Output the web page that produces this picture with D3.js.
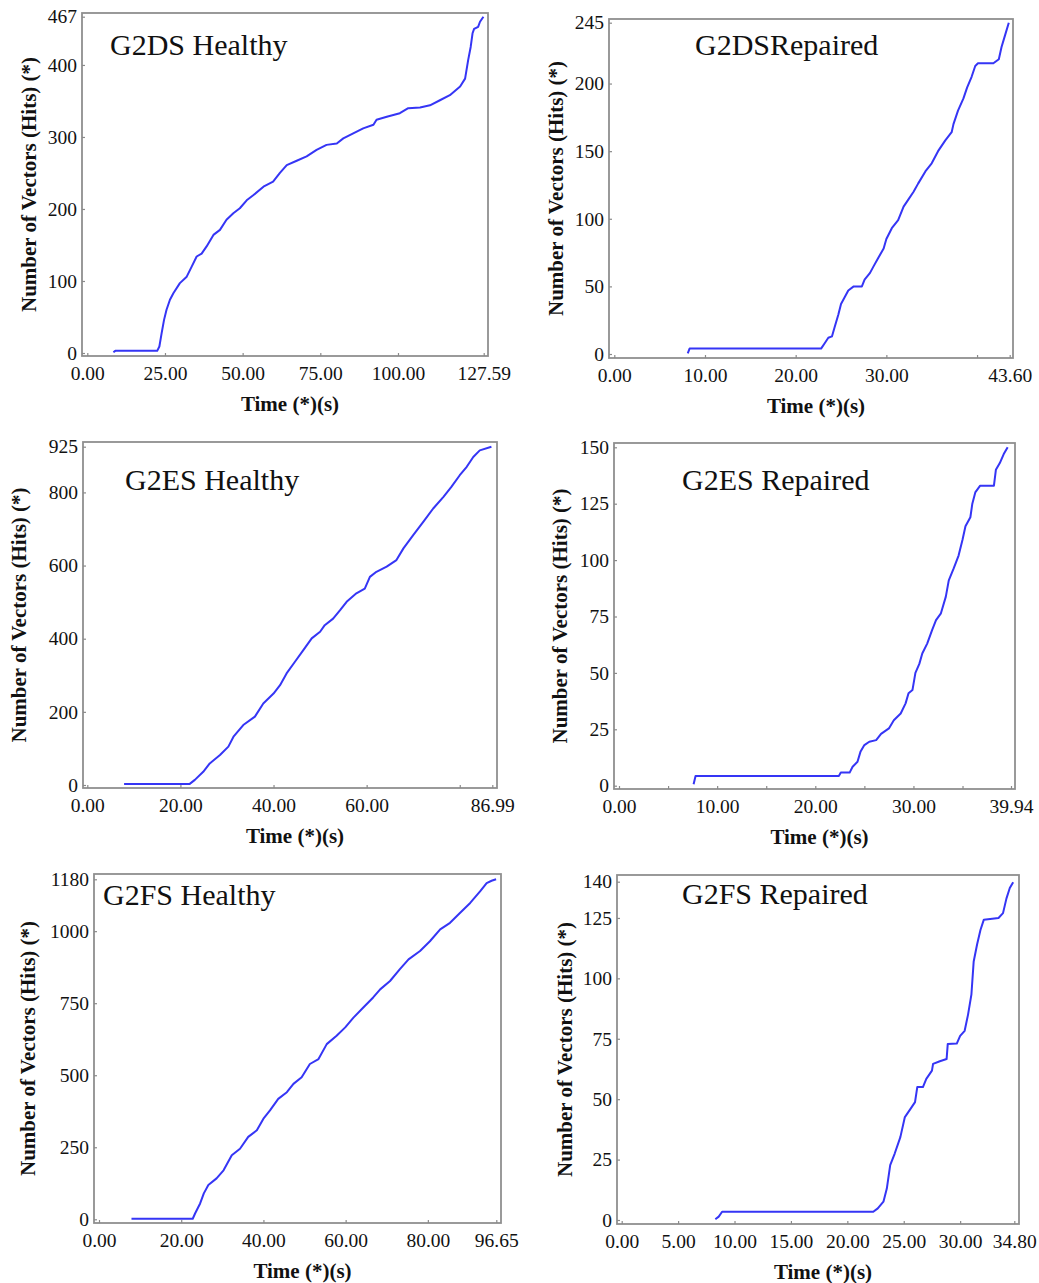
<!DOCTYPE html>
<html>
<head>
<meta charset="utf-8">
<script src="https://cdn.jsdelivr.net/npm/d3@7"></script>
<style>
  body { margin: 0; background: #fff; }
  .tick text { font-family: "Liberation Serif", "Times New Roman", serif; font-size: 19.5px; fill: #111; }
  .tick line { stroke: #8a8a8a; stroke-width: 1.2; }
  .axis-title { font-family: "Liberation Serif", serif; font-size: 21px; font-weight: bold; fill: #111; }
  .panel-title { font-family: "Liberation Serif", serif; font-size: 30px; fill: #111; }
</style>
</head>
<body>
<div id="chart"></div>
<script>
// ---- data (time in s, cumulative hits) ----

// G2DS Healthy
const g2dsHealthyT = [8.4, 9.0, 22.5, 23.2, 23.9, 24.7, 25.5, 26.6, 27.7, 29.8, 32.0, 33.6, 35.2, 36.8, 38.4, 40.6, 42.7, 44.8, 47.0, 49.1, 51.3, 53.4, 56.7, 59.8, 62.0, 64.2, 67.4, 70.6, 73.8, 77.0, 80.3, 82.4, 85.6, 88.8, 92.1, 93.1, 96.4, 100.6, 103.3, 107.1, 110.3, 113.5, 116.7, 120.0, 121.6, 122.6, 123.4, 124.0, 124.5, 125.8, 126.4, 127.5];
const g2dsHealthyV = [1, 3, 3, 9, 27, 46, 60, 74, 83, 97, 106, 120, 134, 138, 148, 164, 171, 185, 194, 201, 212, 219, 231, 238, 250, 261, 267, 273, 282, 289, 291, 298, 305, 312, 317, 324, 328, 333, 340, 341, 344, 351, 358, 370, 381, 407, 425, 444, 450, 453, 460, 467];
const g2dsHealthyXTicks = [0, 25, 50, 75, 100, 127.59];
const g2dsHealthyYTicks = [0, 100, 200, 300, 400, 467];

// G2DS Repaired
const g2dsRepairedT = [8.1, 8.3, 22.8, 23.2, 23.6, 24.0, 24.3, 24.7, 25.0, 25.4, 25.8, 26.4, 27.3, 27.6, 28.2, 28.6, 29.1, 29.7, 30.0, 30.6, 31.3, 31.9, 32.4, 33.0, 33.5, 34.3, 35.0, 35.7, 36.5, 37.2, 37.4, 37.9, 38.5, 38.9, 39.4, 39.8, 40.1, 41.8, 42.4, 42.7, 43.1, 43.5];
const g2dsRepairedV = [0.5, 4, 4, 8, 12, 13, 20, 29, 37, 42, 47, 50, 50, 55, 60, 65, 71, 78, 85, 93, 99, 109, 114, 120, 126, 135, 141, 150, 158, 164, 170, 180, 189, 197, 205, 213, 215, 215, 218, 227, 236, 245];
const g2dsRepairedXTicks = [0, 10, 20, 30, 40, 43.6];
const g2dsRepairedYTicks = [0, 50, 100, 150, 200, 245];

// G2ES Healthy
const g2esHealthyT = [7.9, 22.0, 23.1, 24.9, 26.3, 28.5, 30.3, 31.4, 33.5, 36.0, 37.8, 40.0, 41.4, 42.8, 44.6, 46.4, 48.2, 50.0, 51.0, 52.8, 54.3, 55.7, 57.8, 59.6, 60.7, 62.1, 64.3, 66.4, 67.9, 70.0, 72.2, 74.3, 76.5, 78.2, 80.0, 81.5, 82.9, 84.3, 86.8];
const g2esHealthyV = [3, 3, 14, 36, 59, 82, 105, 132, 164, 187, 223, 250, 273, 305, 337, 369, 401, 419, 437, 455, 478, 501, 524, 537, 569, 583, 597, 615, 647, 683, 720, 756, 788, 815, 847, 870, 897, 915, 925];
const g2esHealthyXTicks = [0, 20, 40, 60, 80, 86.99];
const g2esHealthyYTicks = [0, 200, 400, 600, 800, 925];

// G2ES Repaired
const g2esRepairedT = [7.6, 7.8, 22.4, 22.6, 23.5, 23.8, 24.3, 24.6, 25.0, 25.5, 26.2, 26.7, 27.5, 28.0, 28.7, 29.2, 29.5, 29.9, 30.2, 30.6, 30.9, 31.4, 31.9, 32.3, 32.8, 33.3, 33.6, 34.1, 34.6, 35.0, 35.3, 35.8, 36.0, 36.3, 36.8, 38.2, 38.4, 38.8, 39.2, 39.6];
const g2esRepairedV = [0.6, 4.3, 4.3, 5.8, 5.8, 8.4, 10.6, 15, 18, 19.5, 20.2, 23, 25.4, 29, 32, 36.5, 41, 42.4, 50, 54, 58.6, 63, 69, 73.4, 76.4, 83.8, 91, 96.3, 102, 109, 115, 119, 125, 130, 133, 133, 140, 143, 147, 150];
const g2esRepairedXTicks = [0, 5, 10, 15, 20, 25, 30, 35, 39.94];
const g2esRepairedYTicks = [0, 25, 50, 75, 100, 125, 150];

// G2FS Healthy
const g2fsHealthyT = [7.9, 22.8, 23.4, 24.6, 25.5, 26.6, 28.6, 30.3, 32.3, 34.3, 36.3, 38.4, 40.0, 41.6, 43.6, 45.7, 47.3, 49.3, 51.3, 53.4, 55.4, 57.8, 59.9, 61.9, 64.3, 66.7, 68.4, 70.8, 73.2, 75.3, 78.1, 80.5, 83.0, 85.4, 87.8, 90.3, 92.7, 94.3, 95.5, 96.6];
const g2fsHealthyV = [2, 2, 21, 55, 90, 119, 142, 170, 222, 245, 286, 309, 349, 378, 418, 441, 470, 493, 539, 556, 608, 637, 666, 700, 735, 770, 798, 827, 868, 902, 931, 965, 1006, 1029, 1063, 1098, 1138, 1167, 1175, 1180];
const g2fsHealthyXTicks = [0, 20, 40, 60, 80, 96.65];
const g2fsHealthyYTicks = [0, 250, 500, 750, 1000, 1180];

// G2FS Repaired
const g2fsRepairedT = [8.3, 8.6, 8.9, 22.3, 22.7, 23.2, 23.5, 23.8, 24.2, 24.7, 25.1, 25.6, 26.0, 26.2, 26.7, 27.0, 27.5, 27.6, 28.2, 28.8, 28.9, 29.7, 30.0, 30.4, 30.7, 31.0, 31.2, 31.5, 31.8, 32.1, 33.4, 33.8, 34.1, 34.4, 34.7];
const g2fsRepairedV = [0.3, 1.4, 3.4, 3.4, 4.8, 7.6, 13, 22.7, 27.5, 34.3, 42.6, 46, 48.8, 55, 55, 58.4, 61.8, 64.6, 65.7, 66.6, 72.8, 73, 76.2, 78.3, 85, 93.4, 107, 114, 120, 124.3, 125, 127, 133, 137.4, 139.8];
const g2fsRepairedXTicks = [0, 5, 10, 15, 20, 25, 30, 34.8];
const g2fsRepairedYTicks = [0, 25, 50, 75, 100, 125, 140];

// ---- layout of the six panels ----
const panels = [
    {title: "G2DS Healthy", t: g2dsHealthyT, v: g2dsHealthyV, xTicks: g2dsHealthyXTicks, yTicks: g2dsHealthyYTicks,
     frame: [82, 13, 488, 356], xr: [87.3, 483.7], yr: [353, 16.7], titlePos: [110, 55], yTitleX: 29, hideX: [125]},
    {title: "G2DSRepaired", t: g2dsRepairedT, v: g2dsRepairedV, xTicks: g2dsRepairedXTicks, yTicks: g2dsRepairedYTicks,
     frame: [609, 19, 1013, 358], xr: [614.3, 1009.7], yr: [354, 22.7], titlePos: [695, 55], yTitleX: 556, hideX: [40]},
    {title: "G2ES Healthy", t: g2esHealthyT, v: g2esHealthyV, xTicks: g2esHealthyXTicks, yTicks: g2esHealthyYTicks,
     frame: [83, 442, 497, 788], xr: [87.3, 492.3], yr: [785, 446.7], titlePos: [125, 490], yTitleX: 19, hideX: [80]},
    {title: "G2ES Repaired", t: g2esRepairedT, v: g2esRepairedV, xTicks: g2esRepairedXTicks, yTicks: g2esRepairedYTicks,
     frame: [614, 443, 1015, 789], xr: [619, 1011], yr: [785.7, 447.3], titlePos: [682, 490], yTitleX: 560, hideX: [5, 15, 25, 35]},
    {title: "G2FS Healthy", t: g2fsHealthyT, v: g2fsHealthyV, xTicks: g2fsHealthyXTicks, yTicks: g2fsHealthyYTicks,
     frame: [94, 874, 501, 1223], xr: [99, 496.3], yr: [1219.3, 879.3], titlePos: [103, 905], yTitleX: 28, hideX: []},
    {title: "G2FS Repaired", t: g2fsRepairedT, v: g2fsRepairedV, xTicks: g2fsRepairedXTicks, yTicks: g2fsRepairedYTicks,
     frame: [617, 875, 1019, 1224], xr: [621.7, 1014.3], yr: [1220, 881.7], titlePos: [682, 904], yTitleX: 565, hideX: []}
];

const svg = d3.select("#chart").append("svg")
    .attr("width", 1039)
    .attr("height", 1283);

const fmt2 = d3.format(".2f");

panels.forEach(function(p) {
    let [fx0, fy0, fx1, fy1] = p.frame;

    let x = d3.scaleLinear()
        .domain([0, d3.max(p.xTicks)])
        .range(p.xr);
    let y = d3.scaleLinear()
        .domain([0, d3.max(p.yTicks)])
        .range(p.yr);

    let g = svg.append("g");

    // frame
    g.append("rect")
        .attr("x", fx0).attr("y", fy0)
        .attr("width", fx1 - fx0).attr("height", fy1 - fy0)
        .attr("fill", "none")
        .attr("stroke", "#8f8f8f")
        .attr("stroke-width", 1.8);

    // x axis, small inside ticks on the frame bottom
    let xAxis = g.append("g")
        .attr("transform", "translate(0," + fy1 + ")")
        .call(d3.axisBottom(x)
            .tickValues(p.xTicks)
            .tickSizeInner(-3)
            .tickSizeOuter(0)
            .tickPadding(10)
            .tickFormat(d => p.hideX.includes(d) ? "" : fmt2(d)));
    xAxis.select(".domain").remove();

    // y axis
    let yAxis = g.append("g")
        .attr("transform", "translate(" + fx0 + ",0)")
        .call(d3.axisLeft(y)
            .tickValues(p.yTicks)
            .tickSizeInner(-3)
            .tickSizeOuter(0)
            .tickPadding(5)
            .tickFormat(d3.format("d")));
    yAxis.select(".domain").remove();

    // axis titles
    g.append("text")
        .attr("class", "axis-title")
        .attr("x", (fx0 + fx1) / 2 + 5)
        .attr("y", fy1 + 55)
        .attr("text-anchor", "middle")
        .text("Time (*)(s)");

    g.append("text")
        .attr("class", "axis-title")
        .attr("transform", "translate(" + p.yTitleX + "," + (fy0 + fy1) / 2 + ") rotate(-90)")
        .attr("text-anchor", "middle")
        .attr("dy", "0.35em")
        .text("Number of Vectors (Hits) (*)");

    // panel title
    g.append("text")
        .attr("class", "panel-title")
        .attr("x", p.titlePos[0])
        .attr("y", p.titlePos[1])
        .text(p.title);

    // cumulative hits line
    let pts = p.t.map((d, i) => [d, p.v[i]]);
    g.append("path")
        .datum(pts)
        .attr("fill", "none")
        .attr("stroke", "#3535f5")
        .attr("stroke-width", 2)
        .attr("stroke-linejoin", "round")
        .attr("d", d3.line()
            .x(d => x(d[0]))
            .y(d => y(d[1])));
});
</script>
</body>
</html>
